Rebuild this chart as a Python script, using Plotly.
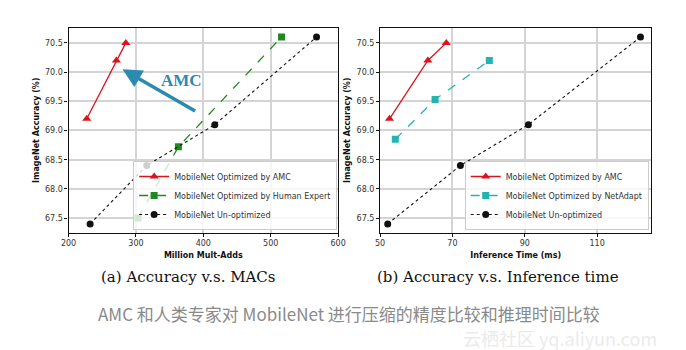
import plotly.graph_objects as go

# ---------- data ----------
macs_amc = [227, 271, 285]
acc_amc_a = [69.2, 70.2, 70.5]
macs_human = [303, 363, 516]
acc_human = [67.5, 68.72, 70.6]
macs_unopt = [232, 316, 417, 568]
acc_unopt = [67.4, 68.4, 69.1, 70.6]

time_amc = [52.6, 63.2, 68.3]
acc_amc_b = [69.2, 70.2, 70.5]
time_netadapt = [54.2, 65.2, 80.2]
acc_netadapt = [68.85, 69.53, 70.2]
time_unopt = [52.1, 72.2, 91.0, 122.0]
acc_unopt_b = [67.4, 68.4, 69.1, 70.6]

x_ticks_a = [200, 300, 400, 500, 600]
x_ticks_b = [50, 70, 90, 110]
y_ticks = [67.5, 68.0, 68.5, 69.0, 69.5, 70.0, 70.5]

RED = "#d9141c"
GREEN = "#1f8a1f"
TEAL = "#22b5b0"
BLACK = "#111111"
ARROW = "#2a8ab0"

fig = go.Figure()

# Left subplot
fig.add_trace(go.Scatter(x=macs_amc, y=acc_amc_a, mode="lines+markers", name="MobileNet Optimized by AMC",
                         line=dict(color=RED, width=1.3), marker=dict(symbol="triangle-up", size=8, color=RED),
                         xaxis="x", yaxis="y", legend="legend"))
fig.add_trace(go.Scatter(x=macs_human, y=acc_human, mode="lines+markers", name="MobileNet Optimized by Human Expert",
                         line=dict(color=GREEN, width=1.3, dash="dash"), marker=dict(symbol="square", size=7, color=GREEN),
                         xaxis="x", yaxis="y", legend="legend"))
fig.add_trace(go.Scatter(x=macs_unopt, y=acc_unopt, mode="lines+markers", name="MobileNet Un-optimized",
                         line=dict(color=BLACK, width=1.1, dash="dot"), marker=dict(symbol="circle", size=7, color=BLACK),
                         xaxis="x", yaxis="y", legend="legend"))

# Right subplot
fig.add_trace(go.Scatter(x=time_amc, y=acc_amc_b, mode="lines+markers", name="MobileNet Optimized by AMC",
                         line=dict(color=RED, width=1.3), marker=dict(symbol="triangle-up", size=8, color=RED),
                         xaxis="x2", yaxis="y2", legend="legend2"))
fig.add_trace(go.Scatter(x=time_netadapt, y=acc_netadapt, mode="lines+markers", name="MobileNet Optimized by NetAdapt",
                         line=dict(color=TEAL, width=1.3, dash="dash"), marker=dict(symbol="square", size=7, color=TEAL),
                         xaxis="x2", yaxis="y2", legend="legend2"))
fig.add_trace(go.Scatter(x=time_unopt, y=acc_unopt_b, mode="lines+markers", name="MobileNet Un-optimized",
                         line=dict(color=BLACK, width=1.1, dash="dot"), marker=dict(symbol="circle", size=7, color=BLACK),
                         xaxis="x2", yaxis="y2", legend="legend2"))

W, H = 686, 350
ydom = [1 - 232.7 / H, 1 - 27.7 / H]
tickfont = dict(family="DejaVu Sans", size=8, color="#333")
titlefont = dict(family="DejaVu Sans", size=8, color="#111", weight="bold")
axcommon = dict(showline=True, linecolor="#111", linewidth=1.3, mirror=True, showgrid=True,
                gridcolor="#d4d4d4", gridwidth=2, zeroline=False, ticks="outside", ticklen=3,
                tickcolor="#111", tickfont=tickfont)

legcommon = dict(font=dict(family="DejaVu Sans", size=8, color="#333"), bgcolor="rgba(255,255,255,0.8)",
                 bordercolor="#cccccc", borderwidth=1, xanchor="right", yanchor="bottom",
                 tracegroupgap=0, itemwidth=30, traceorder="normal")

fig.update_layout(
    width=W, height=H, margin=dict(l=0, r=0, t=0, b=0),
    paper_bgcolor="white", plot_bgcolor="white",
    xaxis=dict(domain=[62 / W, 338 / W], range=[200, 600], tickvals=x_ticks_a,
               title=dict(text="Million Mult-Adds", font=titlefont, standoff=4), anchor="y", **axcommon),
    yaxis=dict(domain=ydom, range=[67.25, 70.76], tickvals=y_ticks, tickformat=".1f",
               title=dict(text="ImageNet Accuracy (%)", font=titlefont, standoff=4), anchor="x", **axcommon),
    xaxis2=dict(domain=[381 / W, 658.7 / W], range=[50, 125], tickvals=x_ticks_b,
                title=dict(text="Inference Time (ms)", font=titlefont, standoff=4), anchor="y2", **axcommon),
    yaxis2=dict(domain=ydom, range=[67.25, 70.76], tickvals=y_ticks, tickformat=".1f",
                title=dict(text="ImageNet Accuracy (%)", font=titlefont, standoff=4), anchor="x2", **axcommon),
    legend=dict(x=337 / W, y=1 - 230 / H, **legcommon),
    legend2=dict(x=656 / W, y=1 - 230 / H, **legcommon),
    showlegend=True,
)

# AMC arrow + label
fig.add_annotation(x=280, y=70.05, ax=390, ay=69.32, xref="x", yref="y", axref="x", ayref="y",
                   showarrow=True, arrowhead=2, arrowsize=1.1, arrowwidth=3.5, arrowcolor=ARROW, text="")
fig.add_annotation(x=367, y=69.86, xref="x", yref="y", text="<b>AMC</b>", showarrow=False,
                   font=dict(family="Liberation Serif", size=17, color=ARROW))

# Sub-captions
fig.add_annotation(x=185 / W, y=1 - 277 / H, xref="paper", yref="paper", xanchor="center", yanchor="middle",
                   text="(a) Accuracy v.s. MACs",
                   showarrow=False, font=dict(family="DejaVu Serif", size=15, color="#111"))
fig.add_annotation(x=502 / W, y=1 - 277 / H, xref="paper", yref="paper", xanchor="center", yanchor="middle",
                   text="(b) Accuracy v.s. Inference time",
                   showarrow=False, font=dict(family="DejaVu Serif", size=15, color="#111"))

# Watermark
fig.add_annotation(x=565 / W, y=1 - 338 / H, xref="paper", yref="paper", xanchor="center", yanchor="middle",
                   text="云栖社区 yq.aliyun.com", showarrow=False,
                   font=dict(family="Noto Sans CJK SC", size=18, color="#ebebeb"))
# Chinese caption
fig.add_annotation(x=349 / W, y=1 - 313 / H, xref="paper", yref="paper", xanchor="center", yanchor="middle",
                   text="AMC 和人类专家对 MobileNet 进行压缩的精度比较和推理时间比较",
                   showarrow=False, font=dict(family="Noto Sans CJK SC", size=17, color="#8a8a8a"))

fig.write_html("out.html")
